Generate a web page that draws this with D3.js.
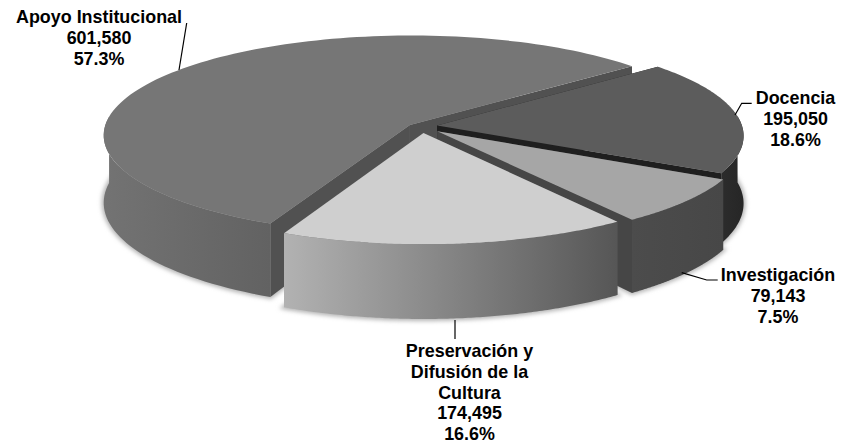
<!DOCTYPE html>
<html>
<head>
<meta charset="utf-8">
<script src="https://cdn.jsdelivr.net/npm/d3@7"></script>
<style>
  html, body { margin: 0; padding: 0; background: #fff; }
  svg { display: block; }
  text { font-family: "Liberation Sans", Arial, sans-serif; font-weight: bold; font-size: 17.9px; fill: #000; }
</style>
</head>
<body>
<div id="chart"></div>
<script>
// Data
const categories = ["Apoyo Institucional", "Docencia", "Investigación", "Preservación y Difusión de la Cultura"];
const values = [601580, 195050, 79143, 174495];
const valueLabels = ["601,580", "195,050", "79,143", "174,495"];
const percentLabels = ["57.3%", "18.6%", "7.5%", "16.6%"];
const nameLines = [["Apoyo Institucional"], ["Docencia"], ["Investigación"], ["Preservación y", "Difusión de la", "Cultura"]];

const width = 846, height = 447;

// pie sits on a tilted plane, so the circle gets a small perspective term
const cx = 422, cy = 128, rx = 305.5, ry = 99, persp = 0.1;
const depth = 67;
const explode = 0.05;
const startDeg = -155.6;
const lineHeight = 20.9;
// small per-slice shifts on the plane, on top of the explode
const nudge = [[0, 0], [0, -0.02], [0.012, 0], [0, 0]];

const topFill = ["#767676", "#5c5c5c", "#a6a6a6", "#cfcfcf"];
const edgeFill = ["#515151", "#1f1f1f", "#464646", "#555555"];
const rimStops = [["#737373", "#626262"], ["#2c2c2c", "#262626"], ["#4c4c4c", "#474747"], ["#b2b2b2", "#565656"]];

// layout of labels: x centre, first baseline, leader line
const labelPos = [
  {x: 99, y: 23, leader: [[186.7, 23], [179, 70]]},
  {x: 795.5, y: 104, leader: [[751.7, 103.3], [741.7, 103.3], [735, 115]]},
  {x: 778, y: 281, leader: [[681.7, 272.7], [706.7, 280], [717.7, 280]]},
  {x: 469.5, y: 356.7, leader: [[455, 320], [455, 339]]}
];

const svg = d3.select("#chart").append("svg")
  .attr("width", width)
  .attr("height", height);

const defs = svg.append("defs");
defs.append("filter")
  .attr("id", "blur")
  .attr("x", "-5%").attr("y", "-5%").attr("width", "110%").attr("height", "110%")
  .append("feGaussianBlur")
  .attr("stdDeviation", 2);

const arcs = d3.pie()
  .sort(null)
  .startAngle(startDeg * Math.PI / 180)
  .endAngle((startDeg + 360) * Math.PI / 180)(values);

// plane point -> screen; drop = 1 puts it on the underside
function project(u, v, drop) {
  const w = 1 - persp * v;
  return [cx + rx * u / w, cy + ry * v / w + drop * depth / w];
}

const line = d3.line();

arcs.forEach((a, i) => {
  const mid = (a.startAngle + a.endAngle) / 2;
  const ox = explode * Math.sin(mid) + nudge[i][0];
  const oy = -explode * Math.cos(mid) + nudge[i][1];
  const steps = d3.range(0, 121).map(k => a.startAngle + (a.endAngle - a.startAngle) * k / 120);
  // only the part of the rim that faces the viewer gets a wall
  const front = steps.filter(t => Math.cos(t) <= persp);
  a.at = (t, drop) => project(ox + Math.sin(t), oy - Math.cos(t), drop);
  a.apex = drop => project(ox, oy, drop);
  a.rim = drop => steps.map(t => a.at(t, drop));
  a.frontRim = drop => front.map(t => a.at(t, drop));
});

// soft shadow under the whole pie
const shadow = svg.append("g").attr("filter", "url(#blur)");
arcs.forEach(a => {
  shadow.append("path")
    .attr("d", line([a.apex(1), ...a.rim(1)]) + "Z")
    .attr("fill", "#b4b4b4")
    .attr("stroke", "#b4b4b4")
    .attr("stroke-width", 4);
});

arcs.forEach((a, i) => {
  const g = svg.append("g").attr("class", "slice");
  const top = a.rim(0);
  const bottom = a.rim(1);
  const frontTop = a.frontRim(0);
  const frontBottom = a.frontRim(1);

  const xs = d3.extent(frontTop, p => p[0]);
  const grad = defs.append("linearGradient")
    .attr("id", "rim" + i)
    .attr("gradientUnits", "userSpaceOnUse")
    .attr("x1", xs[0]).attr("x2", xs[1])
    .attr("y1", 0).attr("y2", 0);
  grad.append("stop").attr("offset", 0).attr("stop-color", rimStops[i][0]);
  grad.append("stop").attr("offset", 1).attr("stop-color", rimStops[i][1]);

  // straight cut faces
  [0, top.length - 1].forEach(e => {
    g.append("path")
      .attr("d", line([a.apex(0), top[e], bottom[e], a.apex(1)]) + "Z")
      .attr("fill", edgeFill[i]);
  });

  // outer wall
  g.append("path")
    .attr("d", line([...frontTop, ...frontBottom.slice().reverse()]) + "Z")
    .attr("fill", `url(#rim${i})`);

  // top face
  g.append("path")
    .attr("d", line([a.apex(0), ...top]) + "Z")
    .attr("fill", topFill[i]);
});

// labels and leader lines
categories.forEach((name, i) => {
  const pos = labelPos[i];
  svg.append("path")
    .attr("d", line(pos.leader))
    .attr("fill", "none")
    .attr("stroke", "#000")
    .attr("stroke-width", 1.2);

  const lines = [...nameLines[i], valueLabels[i], percentLabels[i]];
  const label = svg.append("text").attr("text-anchor", "middle");
  lines.forEach((t, k) => {
    label.append("tspan")
      .attr("x", pos.x)
      .attr("y", pos.y + k * lineHeight)
      .text(t);
  });
});
</script>
</body>
</html>
